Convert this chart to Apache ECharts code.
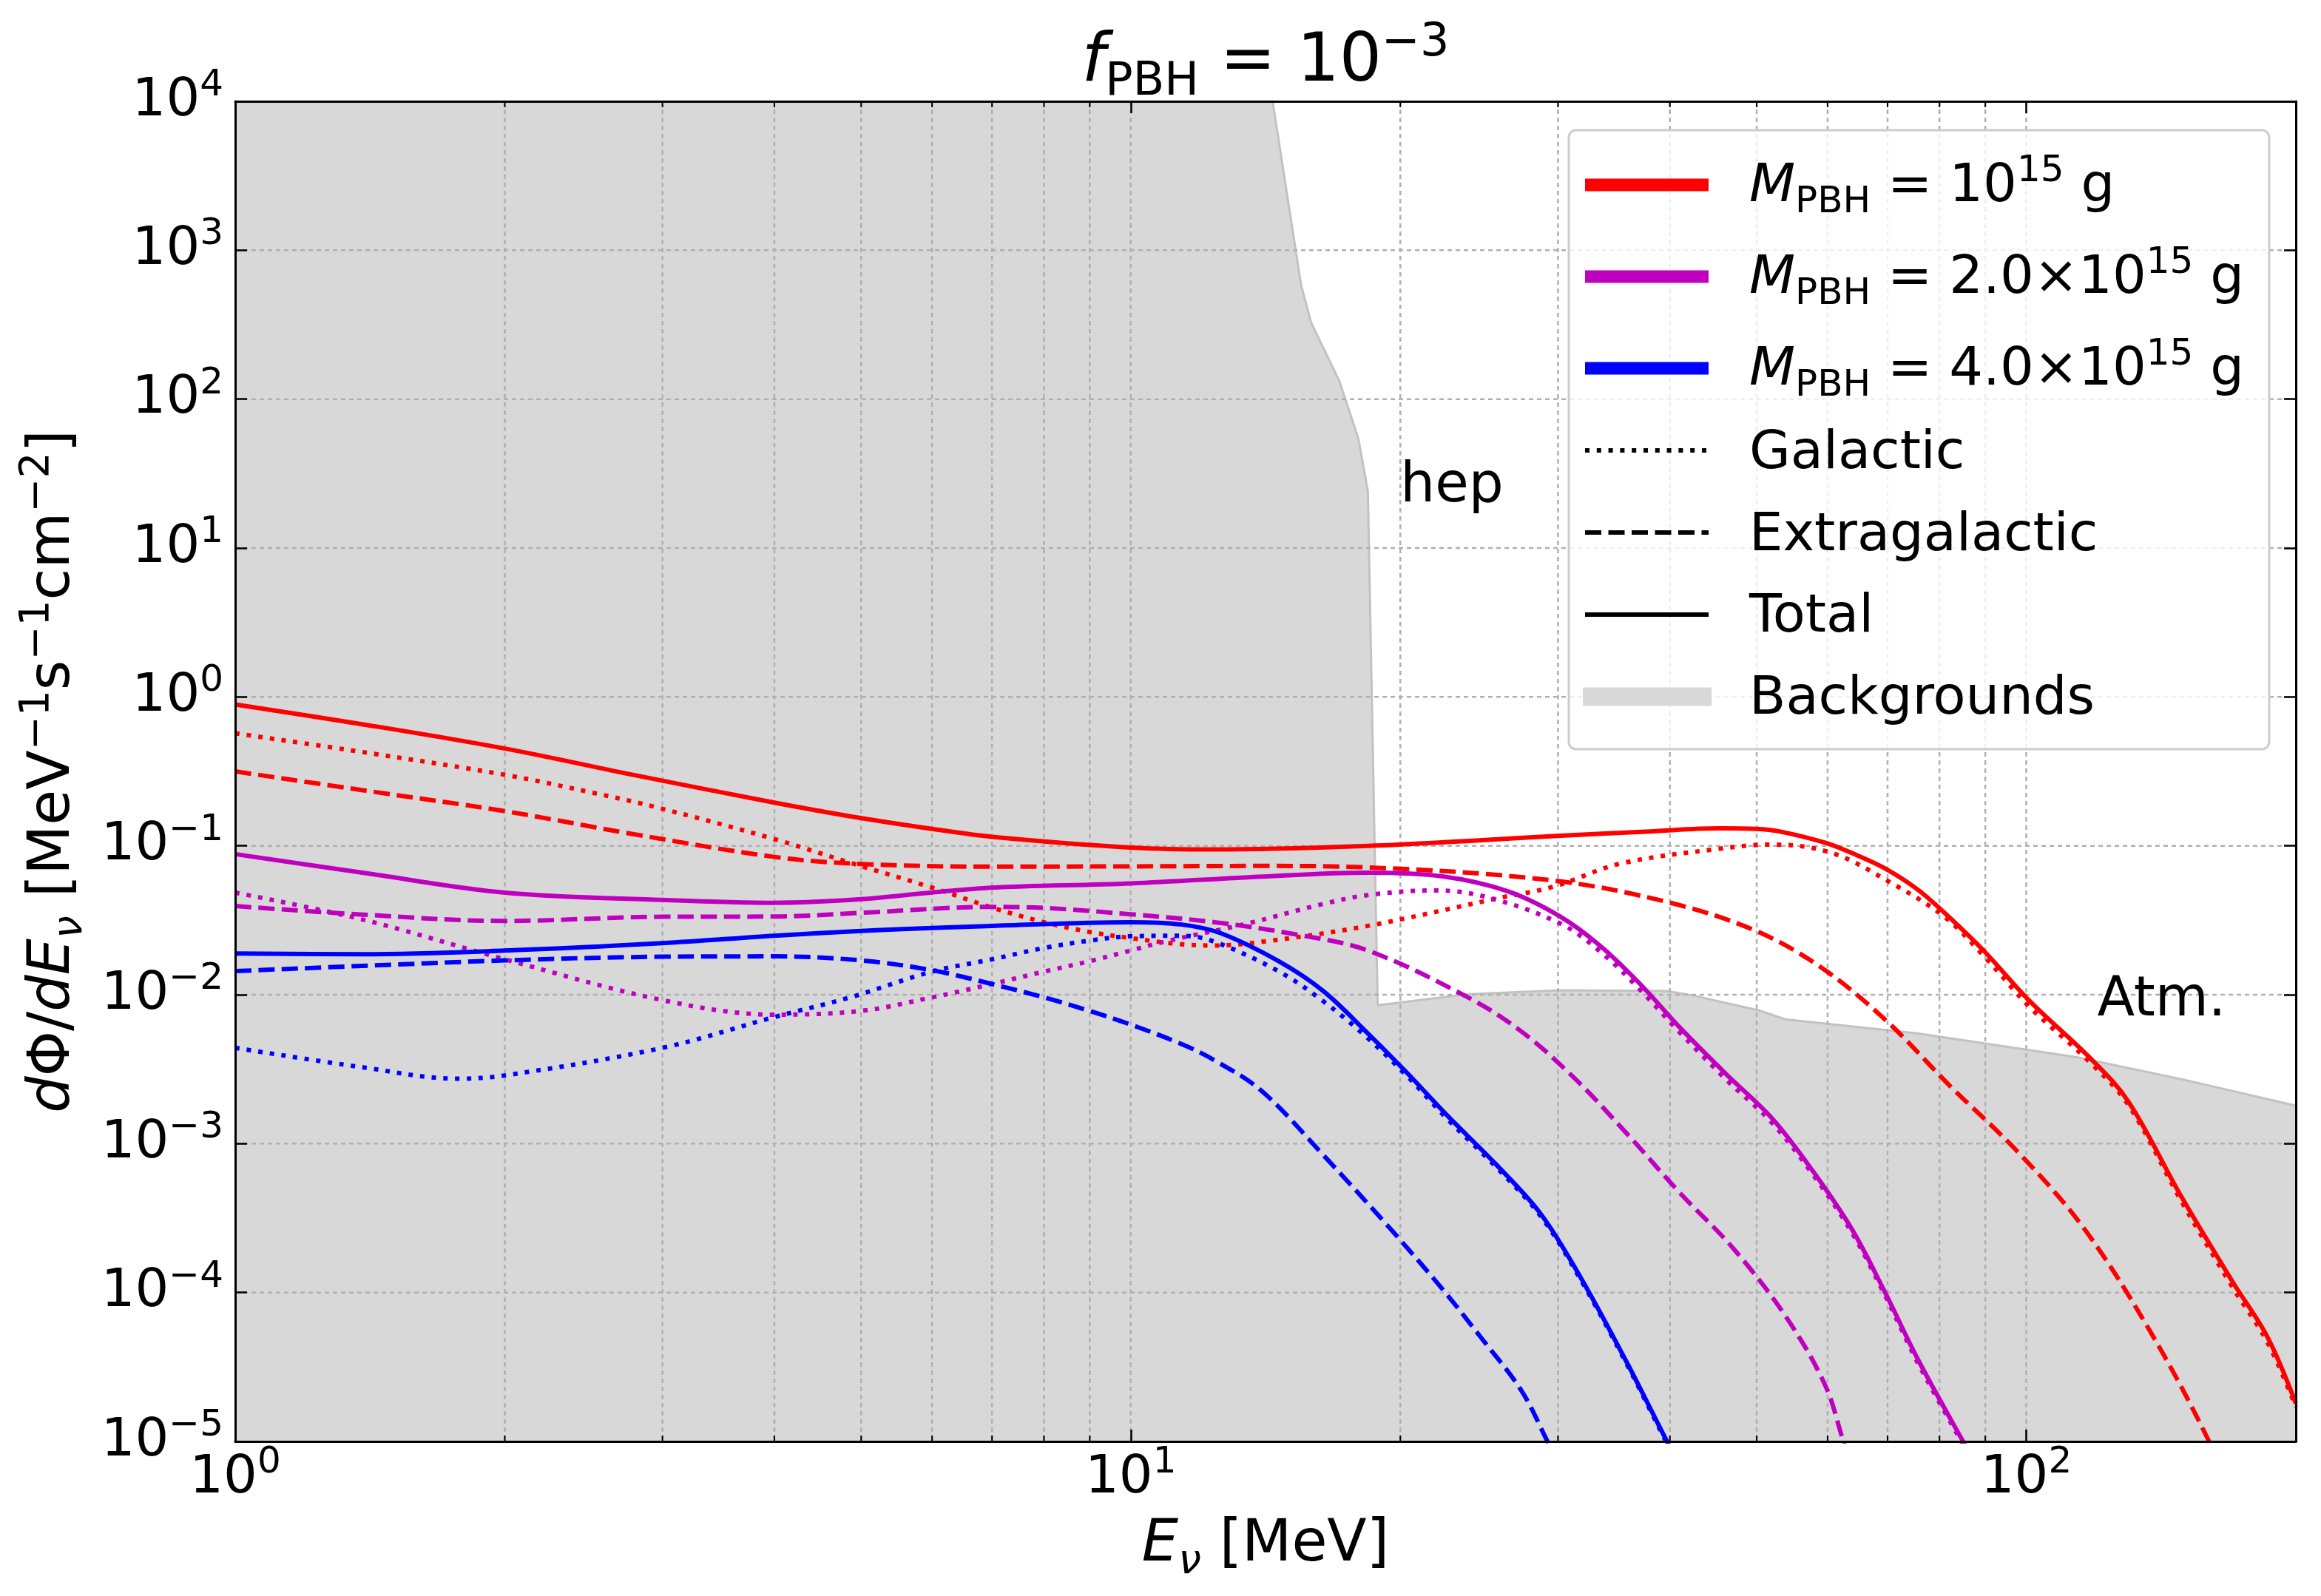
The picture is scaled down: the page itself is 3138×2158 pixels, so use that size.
<!DOCTYPE html>
<html>
<head>
<meta charset="utf-8">
<script src="https://cdn.jsdelivr.net/npm/echarts@6/dist/echarts.min.js"></script>
<style>
html,body{margin:0;padding:0;background:#ffffff;}
#c{width:3138px;height:2158px;}
</style>
</head>
<body>
<div id="c"></div>
<script>
// ---------------- data ----------------
const xTickExps = [0, 1, 2];
const yTickExps = [-5, -4, -3, -2, -1, 0, 1, 2, 3, 4];
const xGridLines = [2, 3, 4, 5, 6, 7, 8, 9, 10, 20, 30, 40, 50, 60, 70, 80, 90, 100];
const xMinorTicks = [2, 3, 4, 5, 6, 7, 8, 9, 20, 30, 40, 50, 60, 70, 80, 90];
const yGridLines = [1e-4, 1e-3, 1e-2, 1e-1, 1, 10, 100, 1000];

// Backgrounds (hep + atmospheric)
const bgE = [1, 14.0, 15.5, 15.9, 17.1, 17.96, 18.4, 18.87, 23.8, 30.2, 39.7, 42.4, 50.3, 53.8, 75.6, 113.6, 149, 200];
const bgF = [3e4, 3e4, 580, 327, 132, 54, 24, 0.0085, 0.0101, 0.0107, 0.0106, 0.0099, 0.00785, 0.00684, 0.0055, 0.00382, 0.00271, 0.0018];

// M = 1e15 g
const m1TotE = [1, 1.41, 2, 2.78, 4, 4.86, 6, 7, 10, 12.4, 18.4, 24.5, 30.2, 38, 45.4, 50, 53, 59.6, 64, 69.4, 75.6, 81, 89.6, 101, 117.5, 130, 149, 170, 186, 200];
const m1TotF = [0.89, 0.645, 0.45, 0.30, 0.195, 0.158, 0.13, 0.115, 0.0975, 0.0946, 0.100, 0.109, 0.117, 0.125, 0.131, 0.130, 0.125, 0.105, 0.089, 0.071, 0.051, 0.0356, 0.0198, 0.009, 0.00382, 0.00192, 4.4e-4, 1.18e-4, 5e-5, 1.8e-5];
const m1GalE = [1, 1.41, 2, 2.51, 2.97, 4, 4.86, 6, 7, 8, 9, 10, 11.4, 12.4, 14.05, 18.4, 25.9, 29.6, 35.2, 45.4, 52, 60.7, 70.6, 81, 89.6, 101, 117.5, 130, 149, 170, 186, 200];
const m1GalF = [0.57, 0.42, 0.30, 0.227, 0.18, 0.111, 0.077, 0.0524, 0.0385, 0.0307, 0.0264, 0.024, 0.0218, 0.0214, 0.0227, 0.029, 0.0449, 0.053, 0.0759, 0.0955, 0.102, 0.0894, 0.0565, 0.0334, 0.0183, 0.0082, 0.00357, 0.00182, 4.1e-4, 1.08e-4, 4.6e-5, 1.7e-5];
const m1EgE = [1, 1.41, 2, 2.78, 4, 4.95, 7, 10, 14, 18.4, 29.7, 39.7, 49.5, 58.6, 69.4, 82.3, 97.5, 115.6, 137, 160, 170];
const m1EgF = [0.316, 0.233, 0.171, 0.12, 0.0843, 0.0757, 0.0725, 0.0728, 0.0733, 0.0716, 0.0584, 0.042, 0.0274, 0.0157, 0.0069, 0.00242, 9.0e-4, 2.77e-4, 5.7e-5, 1e-5, 4e-6];

// M = 2e15 g
const m2TotE = [1, 1.41, 2, 3, 4, 5, 6, 7, 10, 14.05, 18.4, 22.3, 26.4, 30.2, 33.5, 37.1, 41, 46.2, 52, 57.6, 63.8, 69.4, 75.6, 85, 88];
const m2TotF = [0.088, 0.065, 0.0485, 0.0433, 0.0414, 0.0438, 0.0486, 0.0524, 0.0559, 0.0622, 0.066, 0.0623, 0.0494, 0.0334, 0.0211, 0.0117, 0.00605, 0.00294, 0.00148, 6.7e-4, 2.69e-4, 1.03e-4, 3.6e-5, 1e-5, 7e-6];
const m2GalE = [1, 1.39, 2, 3, 4, 5, 6, 7, 8, 9, 10, 10.9, 13.5, 16.4, 18.4, 21.9, 25.1, 30.2, 33.5, 37.1, 41, 46.2, 52, 57.6, 63.8, 69.4, 75.6, 85, 88];
const m2GalF = [0.0485, 0.0319, 0.0173, 0.0092, 0.00735, 0.00779, 0.0096, 0.0118, 0.0143, 0.0168, 0.0198, 0.0227, 0.0301, 0.0407, 0.0467, 0.0502, 0.0449, 0.030, 0.0193, 0.0107, 0.0056, 0.0027, 0.00138, 6.35e-4, 2.55e-4, 9.8e-5, 3.4e-5, 9.5e-6, 6.5e-6];
const m2EgE = [1, 1.39, 2, 3, 4, 5, 7, 8, 10, 12.4, 15.3, 18.4, 23.8, 27.3, 31.3, 35.8, 41, 47, 53.8, 59.6, 62.5, 65];
const m2EgF = [0.0394, 0.0345, 0.0313, 0.0334, 0.0335, 0.0355, 0.0389, 0.0383, 0.0347, 0.0307, 0.0254, 0.0198, 0.0096, 0.00567, 0.00275, 0.00117, 4.7e-4, 2.0e-4, 7e-5, 2.4e-5, 1e-5, 5e-6];

// M = 4e15 g
const m4TotE = [1, 1.39, 2, 3, 4, 4.86, 5.56, 7, 10, 11.4, 12.6, 14.65, 16.4, 18.4, 20.4, 22.6, 25.5, 28.7, 31.8, 35.8, 39.7, 41];
const m4TotF = [0.0189, 0.0187, 0.0198, 0.0222, 0.0249, 0.0266, 0.0276, 0.029, 0.0307, 0.0296, 0.0259, 0.0167, 0.0106, 0.0055, 0.00294, 0.00153, 7.4e-4, 3.37e-4, 1.26e-4, 3.4e-5, 1e-5, 7e-6];
const m4GalE = [1, 1.39, 1.77, 2, 3, 4, 4.86, 6, 7, 8, 9, 10, 11.4, 12.4, 14.65, 16.4, 18.4, 20.4, 22.6, 25.5, 28.7, 31.8, 35.8, 39.7, 41];
const m4GalF = [0.0044, 0.00325, 0.00273, 0.00287, 0.0044, 0.00708, 0.0096, 0.0143, 0.0173, 0.0206, 0.0231, 0.0247, 0.0249, 0.0227, 0.0143, 0.00906, 0.0051, 0.0028, 0.00145, 7.1e-4, 3.25e-4, 1.22e-4, 3.3e-5, 9.7e-6, 6.8e-6];
const m4EgE = [1, 2, 3, 4, 5, 6, 7, 8, 9, 10, 11.4, 12.4, 14, 16.4, 19.4, 22.3, 24.6, 27.3, 29.2, 30.5];
const m4EgF = [0.0144, 0.017, 0.018, 0.0181, 0.017, 0.0146, 0.0118, 0.0096, 0.00778, 0.0063, 0.00466, 0.00363, 0.00226, 8.4e-4, 2.77e-4, 1.05e-4, 5.0e-5, 2.2e-5, 1e-5, 6e-6];

// annotations
const annotTexts = ['hep', 'Atm.'];
const annotPos = [[20, 20], [120, 0.007]];

// legend texts
const legendTexts = [
  '{i|M}{sub|PBH}{n| = 10}{sup|15}{n| g}',
  '{i|M}{sub|PBH}{n| = 2.0×10}{sup|15}{n| g}',
  '{i|M}{sub|PBH}{n| = 4.0×10}{sup|15}{n| g}',
  '{n|Galactic}',
  '{n|Extragalactic}',
  '{n|Total}',
  '{n|Backgrounds}'
];

// ---------------- styling ----------------
const FONT = 'DejaVu Sans';
const RED = '#ff0000', MAG = '#bf00bf', BLUE = '#0000ff';
const LW = 6;
const DASH = [22, 9.5];
const DOT = [6, 9.8];

function rich(fs, sfs, L) {
  const base = {fontFamily: FONT, color: '#000', fill: '#000', fontWeight: 'normal'};
  return {
    n: Object.assign({}, base, {fontSize: fs, lineHeight: L}),
    i: Object.assign({}, base, {fontSize: fs, lineHeight: L, fontStyle: 'italic'}),
    sup: Object.assign({}, base, {fontSize: sfs, lineHeight: sfs, height: sfs, verticalAlign: 'top'}),
    sub: Object.assign({}, base, {fontSize: sfs, lineHeight: sfs, height: sfs, verticalAlign: 'bottom'}),
    subi: Object.assign({}, base, {fontSize: sfs, lineHeight: sfs, height: sfs, verticalAlign: 'bottom', fontStyle: 'italic'})
  };
}
const richTick = rich(72, 50, 92);
const richName = rich(78, 55, 100);
const richTitle = rich(90, 62, 115);
const richLegend = rich(72, 50, 92);

function pairs(E, F) { return E.map((e, i) => [e, F[i]]); }

function curve(name, E, F, color, type) {
  return {
    name: name, type: 'line', xAxisIndex: 0, yAxisIndex: 0,
    data: pairs(E, F), showSymbol: false, symbol: 'none',
    smooth: 0.35, z: 4, silent: true, animation: false,
    lineStyle: {color: color, width: LW, type: type, cap: 'butt', join: 'round'},
    emphasis: {disabled: true}
  };
}

function expLabel(v) {
  const lg = Math.log10(v);
  const e = Math.round(lg);
  if (Math.abs(lg - e) > 1e-6) return '';
  const s = e < 0 ? '\u2212' + (-e) : String(e);
  return '{n|10}{sup|' + s + '}';
}

const chart = echarts.init(document.getElementById('c'), null, {renderer: 'canvas', width: 3138, height: 2158});

const axisX = {
  type: 'log', logBase: 10, min: 1, max: 200, gridIndex: 0, z: 10,
  axisLine: {show: true, onZero: false, lineStyle: {color: '#000', width: 3}},
  axisTick: {show: true, inside: true, length: 16, lineStyle: {color: '#000', width: 2.5}},
  splitLine: {show: false}, minorTick: {show: false}, minorSplitLine: {show: false}
};
const axisY = {
  type: 'log', logBase: 10, min: 1e-5, max: 1e4, gridIndex: 0, z: 10,
  axisLine: {show: true, onZero: false, lineStyle: {color: '#000', width: 3}},
  axisTick: {show: true, inside: true, length: 16, lineStyle: {color: '#000', width: 2.5}},
  splitLine: {show: false}, minorTick: {show: false}, minorSplitLine: {show: false}
};

// legend graphics
const LX0 = 2143, LX1 = 2310, LTX = 2365;
const rowY = [250, 374, 498, 609, 720, 831, 942];
const textDY = [3, 3, 3, 5, 5, 4, 4];
const handleStyles = [
  {stroke: RED, lineWidth: 17},
  {stroke: MAG, lineWidth: 17},
  {stroke: BLUE, lineWidth: 17},
  {stroke: '#000', lineWidth: LW, lineDash: DOT},
  {stroke: '#000', lineWidth: LW, lineDash: DASH},
  {stroke: '#000', lineWidth: LW}
];
const legendGraphics = [{
  type: 'rect', z: 100,
  shape: {x: 2121, y: 176, width: 947, height: 837, r: 10},
  style: {fill: 'rgba(255,255,255,0.8)', stroke: '#cccccc', lineWidth: 3}
}];
handleStyles.forEach((st, i) => {
  legendGraphics.push({
    type: 'line', z: 101,
    shape: {x1: LX0, y1: rowY[i], x2: LX1, y2: rowY[i]},
    style: Object.assign({lineCap: 'butt'}, st)
  });
});
legendGraphics.push({
  type: 'rect', z: 101,
  shape: {x: 2140, y: rowY[6] - 12.5, width: 174, height: 25},
  style: {fill: '#d8d8d8'}
});
legendTexts.forEach((t, i) => {
  legendGraphics.push({
    type: 'text', z: 102, x: LTX, y: rowY[i] + textDY[i],
    style: {text: t, rich: richLegend, fill: '#000', fontFamily: FONT, fontSize: 72,
      align: 'left', verticalAlign: 'middle', textAlign: 'left', textVerticalAlign: 'middle'}
  });
});

const option = {
  animation: false,
  backgroundColor: '#ffffff',
  title: {
    text: '{i|f}{sub|PBH}{n| = 10}{sup|\u22123}',
    left: 1711, top: 28, padding: 0, textAlign: 'center',
    textStyle: {rich: richTitle, fontFamily: FONT, fontSize: 90, fontWeight: 'normal', color: '#000'}
  },
  grid: {left: 318, right: 34, top: 137, bottom: 209, containLabel: false, outerBoundsMode: 'none'},
  xAxis: [
    Object.assign({}, axisX, {
      position: 'bottom',
      name: '{i|E}{subi|\u03bd}{n| [MeV]}', nameLocation: 'middle', nameGap: 91,
      nameTextStyle: {rich: richName, fontFamily: FONT, fontSize: 78, color: '#000'},
      axisLabel: {show: true, margin: 4, interval: 0, formatter: v => {
        const e = Math.round(Math.log10(v));
        return (Math.abs(Math.log10(v) - e) < 1e-6 && xTickExps.indexOf(e) >= 0) ? expLabel(v) : '';
      }, rich: richTick, fontFamily: FONT, fontSize: 72, color: '#000'}
    }),
    Object.assign({}, axisX, {position: 'top', axisLabel: {show: false}})
  ],
  yAxis: [
    Object.assign({}, axisY, {
      position: 'left',
      name: '{i|d}{n|\u03a6/}{i|dE}{subi|\u03bd}{n| [MeV}{sup|\u22121}{n|s}{sup|\u22121}{n|cm}{sup|\u22122}{n|]}',
      nameLocation: 'middle', nameRotate: 90, nameGap: 195,
      nameTextStyle: {rich: richName, fontFamily: FONT, fontSize: 78, color: '#000'},
      axisLabel: {show: true, margin: 16, interval: 0, showMinLabel: true, showMaxLabel: true, formatter: v => {
        const e = Math.round(Math.log10(v));
        return (Math.abs(Math.log10(v) - e) < 1e-6 && yTickExps.indexOf(e) >= 0) ? expLabel(v) : '';
      }, rich: richTick, fontFamily: FONT, fontSize: 72, color: '#000'}
    }),
    Object.assign({}, axisY, {position: 'right', axisLabel: {show: false}})
  ],
  series: [
    {
      name: 'Backgrounds', type: 'line', xAxisIndex: 0, yAxisIndex: 0,
      data: pairs(bgE, bgF), showSymbol: false, symbol: 'none', smooth: false, z: 1, silent: true,
      lineStyle: {color: '#c2c2c2', width: 3},
      areaStyle: {color: '#d8d8d8', opacity: 1, origin: 'start'},
      emphasis: {disabled: true}
    },
    {
      name: 'vgrid', type: 'custom', xAxisIndex: 0, yAxisIndex: 0, z: 2, silent: true,
      data: xGridLines.map(v => [v, 1]), encode: {x: 0, y: 1},
      renderItem: (params, api) => {
        const x = api.coord([api.value(0), 1])[0];
        const cs = params.coordSys;
        return {type: 'line', shape: {x1: x, y1: cs.y, x2: x, y2: cs.y + cs.height},
          style: {stroke: '#b0b0b0', lineWidth: 2.5, lineDash: [6, 5]}};
      }
    },
    {
      name: 'hgrid', type: 'custom', xAxisIndex: 0, yAxisIndex: 0, z: 2, silent: true,
      data: yGridLines.map(v => [1, v]), encode: {x: 0, y: 1},
      renderItem: (params, api) => {
        const y = api.coord([1, api.value(1)])[1];
        const cs = params.coordSys;
        return {type: 'line', shape: {x1: cs.x, y1: y, x2: cs.x + cs.width, y2: y},
          style: {stroke: '#b0b0b0', lineWidth: 2.5, lineDash: [6, 5]}};
      }
    },
    curve('M1 Galactic', m1GalE, m1GalF, RED, DOT),
    curve('M1 Extragalactic', m1EgE, m1EgF, RED, DASH),
    curve('M1 Total', m1TotE, m1TotF, RED, 'solid'),
    curve('M2 Galactic', m2GalE, m2GalF, MAG, DOT),
    curve('M2 Extragalactic', m2EgE, m2EgF, MAG, DASH),
    curve('M2 Total', m2TotE, m2TotF, MAG, 'solid'),
    curve('M4 Galactic', m4GalE, m4GalF, BLUE, DOT),
    curve('M4 Extragalactic', m4EgE, m4EgF, BLUE, DASH),
    curve('M4 Total', m4TotE, m4TotF, BLUE, 'solid'),
    {
      name: 'minorTicks', type: 'custom', xAxisIndex: 0, yAxisIndex: 0, z: 11, silent: true,
      data: xMinorTicks.map(v => [v, 1]), encode: {x: 0, y: 1},
      renderItem: (params, api) => {
        const x = api.coord([api.value(0), 1])[0];
        const cs = params.coordSys;
        return {type: 'group', children: [
          {type: 'line', shape: {x1: x, y1: cs.y + cs.height, x2: x, y2: cs.y + cs.height - 8}, style: {stroke: '#000', lineWidth: 2}},
          {type: 'line', shape: {x1: x, y1: cs.y, x2: x, y2: cs.y + 8}, style: {stroke: '#000', lineWidth: 2}}
        ]};
      }
    },
    {
      name: 'annotations', type: 'scatter', xAxisIndex: 0, yAxisIndex: 0, z: 6, silent: true,
      data: annotPos, symbolSize: 0, itemStyle: {color: '#000000', opacity: 1},
      label: {show: true, position: 'right', distance: 0, offset: [0, -22],
        formatter: p => annotTexts[p.dataIndex], fontFamily: FONT, fontSize: 74, color: '#000000', opacity: 1},
      emphasis: {disabled: true}
    }
  ],
  graphic: legendGraphics
};
chart.setOption(option);
</script>
</body>
</html>
